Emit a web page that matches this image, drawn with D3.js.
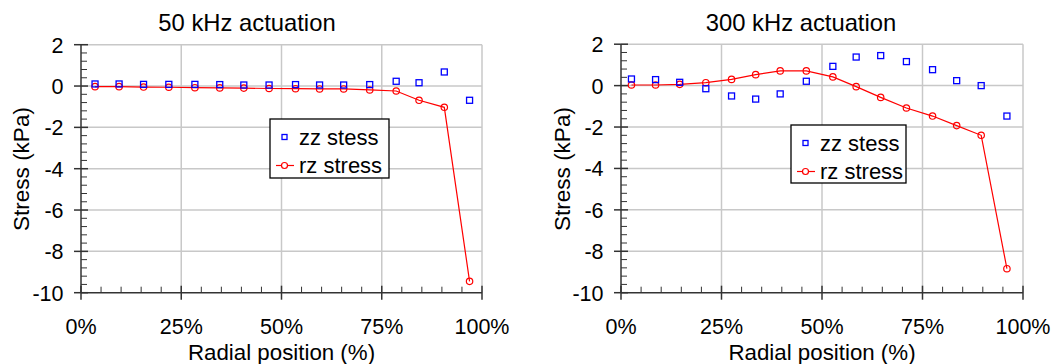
<!DOCTYPE html>
<html><head><meta charset="utf-8">
<script src="https://cdn.jsdelivr.net/npm/d3@7"></script>
<style>body{margin:0;background:#fff}svg{display:block}text{font-family:"Liberation Sans",Arial,sans-serif;fill:#000}</style>
</head><body>
<svg id="c" width="1054" height="364"></svg>
<script>
const titles = ["50 kHz actuation", "300 kHz actuation"];
const xTickVals = [0, 25, 50, 75, 100];
const xTickLabels = ["0%", "25%", "50%", "75%", "100%"];
const yTickVals = [2, 0, -2, -4, -6, -8, -10];
const yTickLabels = ["2", "0", "-2", "-4", "-6", "-8", "-10"];
const seriesNames = ["zz stess", "rz stress"];

// 50 kHz
const pos50 = [3.5, 9.5, 15.6, 21.9, 28.4, 34.6, 40.6, 46.9, 53.5, 59.5, 65.5, 72.0, 78.6, 84.3, 90.6, 96.9];
const zz50 = [0.1, 0.1, 0.08, 0.08, 0.08, 0.07, 0.05, 0.05, 0.07, 0.05, 0.05, 0.07, 0.23, 0.16, 0.68, -0.69];
const rz50 = [-0.03, -0.03, -0.05, -0.06, -0.08, -0.09, -0.1, -0.12, -0.13, -0.14, -0.14, -0.19, -0.24, -0.69, -1.03, -9.45];

// 300 kHz
const pos300 = [2.6, 8.6, 14.6, 21.1, 27.5, 33.5, 39.6, 46.1, 52.7, 58.5, 64.6, 71.0, 77.5, 83.5, 89.6, 96.0];
const zz300 = [0.32, 0.29, 0.16, -0.15, -0.5, -0.65, -0.4, 0.21, 0.93, 1.38, 1.45, 1.16, 0.77, 0.24, 0.0, -1.47];
const rz300 = [0.03, 0.03, 0.06, 0.14, 0.3, 0.53, 0.71, 0.71, 0.42, -0.05, -0.57, -1.08, -1.47, -1.93, -2.4, -8.84];

const svg = d3.select("#c");
const panels = [
  {title: titles[0], pos: pos50, zz: zz50, rz: rz50, x0: 81, x1: 482, y0: 44.7, y1: 292.7, leg: [270, 119, 119, 59], ylabX: 29, titleX: 247},
  {title: titles[1], pos: pos300, zz: zz300, rz: rz300, x0: 621, x1: 1023, y0: 44.2, y1: 292.7, leg: [791, 125, 115, 58], ylabX: 570, titleX: 801}
];

panels.forEach(p => {
  const x = d3.scaleLinear().domain([0, 100]).range([p.x0, p.x1]);
  const y = d3.scaleLinear().domain([2, -10]).range([p.y0, p.y1]);
  const g = svg.append("g");

  // grid
  g.selectAll(".gx").data(xTickVals.slice(1)).join("line")
    .attr("x1", d => x(d)).attr("x2", d => x(d)).attr("y1", p.y0).attr("y2", p.y1)
    .attr("stroke", "#c8c8c8").attr("stroke-width", 1.5);
  g.selectAll(".gy").data(yTickVals.slice(0, -1)).join("line")
    .attr("x1", p.x0).attr("x2", p.x1).attr("y1", d => y(d)).attr("y2", d => y(d))
    .attr("stroke", "#c8c8c8").attr("stroke-width", 1.5);

  // minor ticks
  const xMinor = d3.range(0, 101, 5).filter(v => v % 25 !== 0);
  g.selectAll(".mx").data(xMinor).join("line")
    .attr("x1", d => x(d)).attr("x2", d => x(d)).attr("y1", p.y1).attr("y2", p.y1 - 6)
    .attr("stroke", "#333").attr("stroke-width", 1);
  const yMinor = d3.range(0, 30).map(i => 2 - i * 0.4).filter(v => Math.abs(v / 2 - Math.round(v / 2)) > 0.01 && v > -10);
  g.selectAll(".my").data(yMinor).join("line")
    .attr("x1", p.x0).attr("x2", p.x0 + 6).attr("y1", d => y(d)).attr("y2", d => y(d))
    .attr("stroke", "#333").attr("stroke-width", 1);

  // major ticks
  g.selectAll(".Mx").data(xTickVals).join("line")
    .attr("x1", d => x(d)).attr("x2", d => x(d)).attr("y1", p.y1 - 7).attr("y2", p.y1 + 7)
    .attr("stroke", "#333").attr("stroke-width", 1.5);
  g.selectAll(".My").data(yTickVals).join("line")
    .attr("x1", p.x0 - 7).attr("x2", p.x0 + 7).attr("y1", d => y(d)).attr("y2", d => y(d))
    .attr("stroke", "#333").attr("stroke-width", 1.5);

  // axes lines
  g.append("line").attr("x1", p.x0).attr("x2", p.x1).attr("y1", p.y1).attr("y2", p.y1).attr("stroke", "#333").attr("stroke-width", 1.5);
  g.append("line").attr("x1", p.x0).attr("x2", p.x0).attr("y1", p.y0).attr("y2", p.y1).attr("stroke", "#333").attr("stroke-width", 1.5);

  // tick labels
  g.selectAll(".lx").data(xTickVals).join("text")
    .attr("x", d => x(d)).attr("y", 334).attr("text-anchor", "middle").attr("font-size", 21.5)
    .text((d, i) => xTickLabels[i]);
  g.selectAll(".ly").data(yTickVals).join("text")
    .attr("x", p.x0 - 17.5).attr("y", d => y(d) + 8).attr("text-anchor", "end").attr("font-size", 21.5)
    .text((d, i) => yTickLabels[i]);

  // titles & axis labels
  g.append("text").attr("x", p.titleX).attr("y", 31).attr("text-anchor", "middle").attr("font-size", 23.8).text(p.title);
  g.append("text").attr("x", (p.x0 + p.x1) / 2).attr("y", 359.5).attr("text-anchor", "middle").attr("font-size", 22.3).text("Radial position (%)");
  g.append("text").attr("transform", `translate(${p.ylabX},${169}) rotate(-90)`).attr("text-anchor", "middle").attr("font-size", 22.5).text("Stress (kPa)");

  // rz line + circles
  const pts = p.pos.map((v, i) => [v, p.rz[i]]);
  g.append("path").datum(pts).attr("d", d3.line().x(d => x(d[0])).y(d => y(d[1])))
    .attr("fill", "none").attr("stroke", "#ff0000").attr("stroke-width", 1.2);
  g.selectAll(".rc").data(pts).join("circle")
    .attr("cx", d => x(d[0])).attr("cy", d => y(d[1])).attr("r", 3.2)
    .attr("fill", "none").attr("stroke", "#ff0000").attr("stroke-width", 1.2);

  // zz squares
  const zp = p.pos.map((v, i) => [v, p.zz[i]]);
  g.selectAll(".zs").data(zp).join("rect")
    .attr("x", d => x(d[0]) - 3).attr("y", d => y(d[1]) - 3).attr("width", 6).attr("height", 6)
    .attr("fill", "none").attr("stroke", "#0000ff").attr("stroke-width", 1.3);

  // legend
  const [lx, ly, lw, lh] = p.leg;
  const L = g.append("g");
  L.append("rect").attr("x", lx).attr("y", ly).attr("width", lw).attr("height", lh)
    .attr("fill", "#fff").attr("stroke", "#000").attr("stroke-width", 1.3);
  L.append("rect").attr("x", lx + 12).attr("y", ly + 15.5).attr("width", 5).attr("height", 5)
    .attr("fill", "none").attr("stroke", "#0000ff").attr("stroke-width", 1.3);
  L.append("text").attr("x", lx + 29).attr("y", ly + 26).attr("font-size", 22).text(seriesNames[0]);
  L.append("line").attr("x1", lx + 6).attr("x2", lx + 24).attr("y1", ly + 46.5).attr("y2", ly + 46.5)
    .attr("stroke", "#ff0000").attr("stroke-width", 1.2);
  L.append("circle").attr("cx", lx + 14.5).attr("cy", ly + 46.5).attr("r", 3)
    .attr("fill", "#fff").attr("stroke", "#ff0000").attr("stroke-width", 1.2);
  L.append("text").attr("x", lx + 29).attr("y", ly + 54).attr("font-size", 22).text(seriesNames[1]);
});
</script>
</body></html>
